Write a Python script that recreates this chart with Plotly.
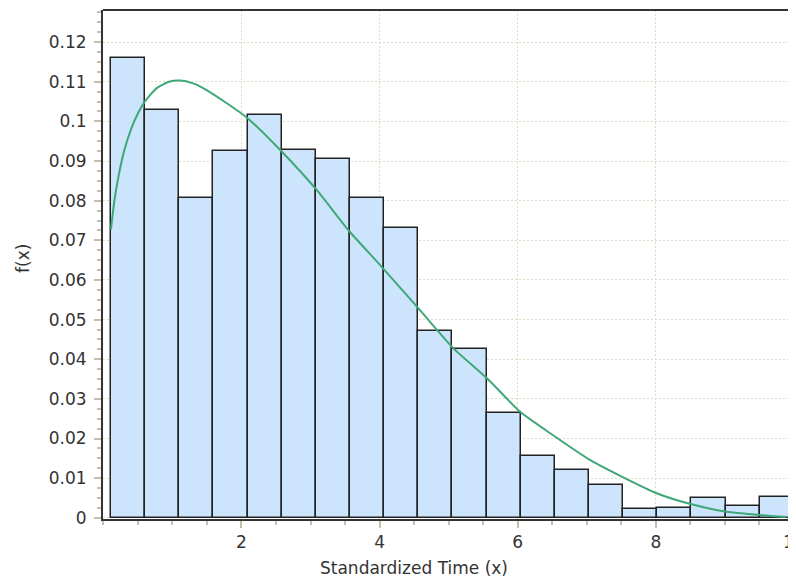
import plotly.graph_objects as go

# Histogram data (density per bin)
bin_start = 0.11
bin_width = 0.4945
bar_heights = [0.1160, 0.1028, 0.0807, 0.0925, 0.1016, 0.0929, 0.0906, 0.0807,
               0.0731, 0.0471, 0.0425, 0.0265, 0.0155, 0.0121, 0.0083, 0.0022,
               0.0026, 0.0049, 0.0029, 0.0052]

# Fitted density curve
curve_x = [0.110, 0.160, 0.220, 0.300, 0.400, 0.500, 0.600, 0.772, 0.950, 1.109,
           1.300, 1.496, 2.075, 2.582, 3.089, 3.546, 4.005, 4.560, 5.067, 5.573,
           6.032, 6.539, 7.046, 7.528, 8.012, 8.519, 9.026, 9.508, 9.894]
curve_y = [0.0727, 0.0800, 0.0862, 0.0925, 0.0980, 0.1020, 0.1050, 0.1084, 0.1100, 0.1103,
           0.1096, 0.1079, 0.1010, 0.0924, 0.0827, 0.0726, 0.0638, 0.0529, 0.0428, 0.0349,
           0.0268, 0.0205, 0.0146, 0.0102, 0.0062, 0.0034, 0.0015, 0.0007, 0.0002]

x_tickvals = [2, 4, 6, 8, 10]
y_tickvals = [0, 0.01, 0.02, 0.03, 0.04, 0.05, 0.06, 0.07, 0.08, 0.09, 0.1, 0.11, 0.12]
y_ticktext = ["0", "0.01", "0.02", "0.03", "0.04", "0.05", "0.06", "0.07", "0.08",
              "0.09", "0.1", "0.11", "0.12"]

bar_centers = [bin_start + bin_width * (i + 0.5) for i in range(len(bar_heights))]

FONT = "DejaVu Sans"
TICKCOL = "#c4c0ae"
GRIDCOL = "#dedec8"

fig = go.Figure()
fig.add_trace(go.Bar(
    x=bar_centers, y=bar_heights, width=bin_width,
    marker=dict(color="#cce4fc", line=dict(color="#222222", width=1.5)),
    showlegend=False, hoverinfo="skip",
))
fig.add_trace(go.Scatter(
    x=curve_x, y=curve_y, mode="lines",
    line=dict(color="#3fa877", width=2, shape="spline", smoothing=0.6),
    showlegend=False, hoverinfo="skip",
))

# page body has an 8px margin, so the figure is sized to end at the window edge
fig.update_layout(
    width=788, height=570,
    margin=dict(l=95, r=0, t=2, b=59),
    paper_bgcolor="white", plot_bgcolor="white",
    font=dict(family=FONT, size=17, color="#333333"),
    bargap=0,
    xaxis=dict(
        range=[-0.005, 10.03], tickvals=x_tickvals, automargin=False,
        ticklabeloverflow="allow",
        showgrid=True, gridcolor=GRIDCOL, gridwidth=1, griddash="2px,2px",
        zeroline=False, showline=True, linecolor="#333333", linewidth=2,
        ticks="outside", ticklen=7, tickwidth=2, tickcolor=TICKCOL,
        minor=dict(dtick=0.5, tick0=0, ticks="outside", ticklen=4, tickwidth=2,
                   tickcolor=TICKCOL, showgrid=False),
        tickfont=dict(family=FONT, size=17, color="#333333"),
    ),
    yaxis=dict(
        range=[-0.0003, 0.1281], tickvals=y_tickvals, ticktext=y_ticktext,
        automargin=False, ticklabeloverflow="allow",
        showgrid=True, gridcolor=GRIDCOL, gridwidth=1, griddash="2px,2px",
        zeroline=False, showline=True, linecolor="#333333", linewidth=2,
        ticks="outside", ticklen=7, tickwidth=2, tickcolor=TICKCOL,
        minor=dict(dtick=0.0025, tick0=0, ticks="outside", ticklen=4, tickwidth=2,
                   tickcolor=TICKCOL, showgrid=False),
        tickfont=dict(family=FONT, size=17, color="#333333"),
        ticklabelstandoff=4,
    ),
    shapes=[dict(type="line", xref="paper", yref="paper", x0=0, x1=1, y0=1, y1=1,
                 line=dict(color="#333333", width=2))],
    annotations=[
        dict(text="Standardized Time (x)", xref="paper", yref="paper",
             x=0.4488, y=-0.0963, xanchor="center", yanchor="middle",
             showarrow=False, font=dict(family=FONT, size=17, color="#333333")),
        dict(text="f(x)", xref="paper", yref="paper",
             x=-0.1154, y=0.511, xanchor="center", yanchor="middle", textangle=-90,
             showarrow=False, font=dict(family=FONT, size=17, color="#333333")),
    ],
)

fig.write_html("out.html")
